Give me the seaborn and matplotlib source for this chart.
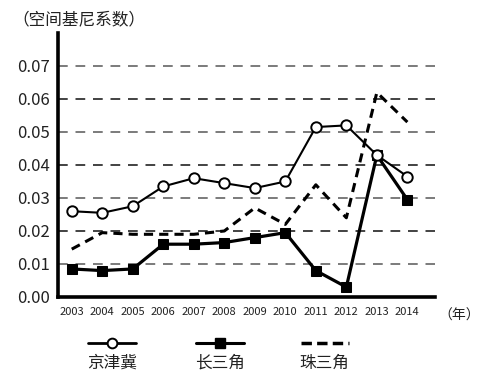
import pandas as pd
import matplotlib.pyplot as plt
import seaborn as sns
from matplotlib.lines import Line2D

# data
years = [2003, 2004, 2005, 2006, 2007, 2008, 2009, 2010, 2011, 2012, 2013, 2014]
jingjinji = [0.026, 0.0255, 0.0275, 0.0335, 0.036, 0.0345, 0.033, 0.035, 0.0515, 0.052, 0.043, 0.0365]
changsanjiao = [0.0085, 0.008, 0.0085, 0.016, 0.016, 0.0165, 0.018, 0.0195, 0.008, 0.003, 0.043, 0.0295]
zhusanjiao = [0.0145, 0.0195, 0.019, 0.019, 0.019, 0.02, 0.027, 0.022, 0.034, 0.024, 0.062, 0.053]
series_names = ["京津冀", "长三角", "珠三角"]
y_ticks = [0.00, 0.01, 0.02, 0.03, 0.04, 0.05, 0.06, 0.07]


def main():
    sns.set_style("white")
    plt.rcParams["font.family"] = ["Noto Sans CJK SC", "DejaVu Sans"]

    df = pd.DataFrame({"year": years, series_names[0]: jingjinji,
                       series_names[1]: changsanjiao, series_names[2]: zhusanjiao})

    fig = plt.figure(figsize=(4.81, 3.78), dpi=100)
    ax = fig.add_axes([0.1206, 0.2143, 0.7834, 0.6984])

    # dashed reference lines
    for i, v in enumerate(y_ticks[1:]):
        ax.axhline(v, color="#222222", linestyle=(0, (5, 4)), linewidth=1.4,
                   alpha=0.6 if i % 2 == 0 else 0.85, zorder=1)

    sns.lineplot(data=df, x="year", y=series_names[2], ax=ax, color="black",
                 linewidth=2.2, linestyle=(0, (3, 2)), zorder=3)
    sns.lineplot(data=df, x="year", y=series_names[1], ax=ax, color="black",
                 linewidth=2.3, marker="s", markersize=7, markerfacecolor="black",
                 markeredgecolor="black", zorder=4)
    sns.lineplot(data=df, x="year", y=series_names[0], ax=ax, color="black",
                 linewidth=1.5, marker="o", markersize=7.5, markerfacecolor="white",
                 markeredgecolor="black", markeredgewidth=1.4, zorder=5)

    ax.set_xlim(2002.55, 2014.9)
    ax.set_ylim(0, 0.08)
    ax.set_xticks(years)
    ax.set_xticklabels([str(y) for y in years], fontsize=8, color="#222222")
    ax.set_yticks(y_ticks)
    ax.set_yticklabels([f"{v:.2f}" for v in y_ticks], fontsize=12, color="#222222")
    ax.tick_params(axis="both", length=0, pad=6)
    ax.tick_params(axis="x", pad=7)
    ax.set_xlabel("")
    ax.set_ylabel("")
    for side in ["top", "right"]:
        ax.spines[side].set_visible(False)
    for side in ["left", "bottom"]:
        ax.spines[side].set_color("black")
        ax.spines[side].set_linewidth(2.6)

    fig.text(0.025, 0.948, "（空间基尼系数）", fontsize=12, color="#222222",
             ha="left", va="center")
    fig.text(0.912, 0.165, "（年）", fontsize=10, color="#222222",
             ha="left", va="center")

    # legend: line sample above, label below
    legend_items = [
        (0.233, dict(linestyle="-", linewidth=2, marker="o", markersize=7,
                     markerfacecolor="white", markeredgewidth=1.4)),
        (0.457, dict(linestyle="-", linewidth=2.2, marker="s", markersize=7,
                     markerfacecolor="black")),
        (0.675, dict(linestyle=(0, (3, 1.5)), linewidth=2.5, marker=None)),
    ]
    for (xc, style), name in zip(legend_items, series_names):
        line = Line2D([xc - 0.05, xc + 0.05], [0.093, 0.093], color="black",
                      transform=fig.transFigure, **style)
        if style.get("marker"):
            line.set_data([xc - 0.05, xc, xc + 0.05], [0.093] * 3)
            line.set_markevery([1])
        fig.add_artist(line)
        fig.text(xc, 0.04, name, fontsize=12, color="#222222", ha="center", va="center")

    fig.savefig("out.png", dpi=100)
    plt.close(fig)


if __name__ == "__main__":
    main()
